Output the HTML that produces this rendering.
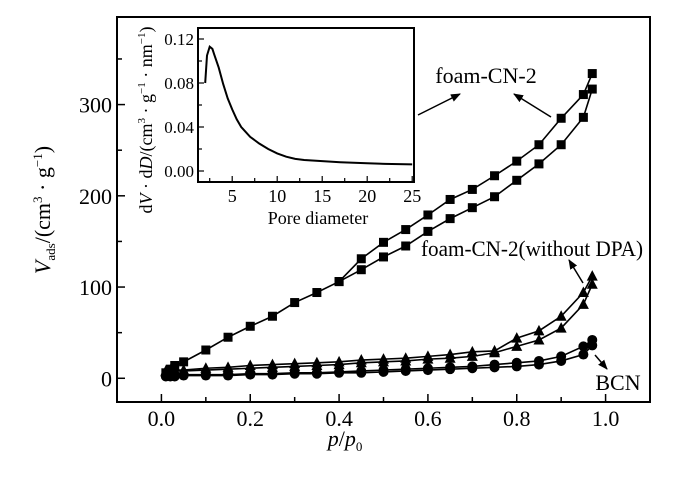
<!DOCTYPE html>
<html><head><meta charset="utf-8"><style>
html,body{margin:0;padding:0;background:#fff;}
svg{display:block;font-family:"Liberation Serif","Times New Roman",serif;}
</style></head><body>
<svg id="chart" width="700" height="481" viewBox="0 0 700 481" xmlns="http://www.w3.org/2000/svg">
<defs>
<marker id="ah" markerWidth="10" markerHeight="8" refX="9" refY="4" orient="auto" markerUnits="userSpaceOnUse"><path d="M0,0 L10,4 L0,8 Z" fill="#000"/></marker>
</defs>
<g id="main"></g>
<g id="inset"></g>
<text x="486" y="83" font-size="22" text-anchor="middle">foam-CN-2</text>
<line x1="418" y1="115" x2="460" y2="94" stroke="#000" stroke-width="1.5" marker-end="url(#ah)"/>
<line x1="551" y1="117" x2="514" y2="94" stroke="#000" stroke-width="1.5" marker-end="url(#ah)"/>
<text x="532" y="256" font-size="22" text-anchor="middle" textLength="222" lengthAdjust="spacingAndGlyphs">foam-CN-2(without DPA)</text>
<line x1="583" y1="283" x2="569" y2="260" stroke="#000" stroke-width="1.5" marker-end="url(#ah)"/>
<text x="618" y="390" font-size="22" text-anchor="middle">BCN</text>
<line x1="595" y1="355" x2="607" y2="369" stroke="#000" stroke-width="1.5" marker-end="url(#ah)"/>
<text transform="translate(50,210) rotate(-90)" font-size="22" text-anchor="middle"><tspan font-style="italic">V</tspan><tspan font-size="13" dy="5">ads</tspan><tspan dy="-5">/(cm</tspan><tspan font-size="13" dy="-8">3</tspan><tspan dy="8"> · g</tspan><tspan font-size="13" dy="-8">−1</tspan><tspan dy="8">)</tspan></text>
<text x="345" y="446" font-size="22" text-anchor="middle"><tspan font-style="italic">p</tspan>/<tspan font-style="italic">p</tspan><tspan font-size="13" dy="5">0</tspan></text>
</svg>
<script>
// main chart data
const pAds = [0.01,0.02,0.03,0.05,0.1,0.15,0.2,0.25,0.3,0.35,0.4,0.45,0.5,0.55,0.6,0.65,0.7,0.75,0.8,0.85,0.9,0.95,0.97];
const foamAds = [6,10,14,18,31,45,57,68,83,94,106,119,133,145,161,175,187,199,217,235,256,286,317];
const pFoamDes = [0.4,0.45,0.5,0.55,0.6,0.65,0.7,0.75,0.8,0.85,0.9,0.95,0.97];
const foamDes = [106,131,149,163,179,196,207,222,238,256,285,311,334];
const pDes = [0.01,0.02,0.03,0.05,0.1,0.15,0.2,0.25,0.3,0.35,0.4,0.45,0.5,0.55,0.6,0.65,0.7,0.75,0.8,0.85,0.9,0.95,0.97];
const triAds = [7,7,8,8,9,10,11,12,13,14,15,17,18,19,21,22,24,28,35,42,55,81,103];
const triDes = [8,9,9,9,11,12,14,15,16,17,18,20,21,22,24,26,29,30,44,52,68,94,112];
const bcnAds = [2,2,2,3,3,3,4,4,5,5,6,6,7,8,9,10,11,12,13,15,19,26,36];
const bcnDes = [3,3,3,4,4,4,5,5,6,6,7,8,9,10,11,12,13,15,17,19,24,35,42];
const xTicks = [0.0,0.2,0.4,0.6,0.8,1.0];
const xTickLabels = ["0.0","0.2","0.4","0.6","0.8","1.0"];
const yTicks = [0,100,200,300];
const yTickLabels = ["0","100","200","300"];
// inset data
const poreD = [2.0,2.2,2.5,2.8,3.0,3.5,4,4.5,5,5.5,6,7,8,9,10,11,12,13,15,17,20,22,25];
const dvdd = [0.080,0.105,0.113,0.111,0.106,0.094,0.079,0.066,0.056,0.047,0.040,0.031,0.025,0.020,0.016,0.013,0.011,0.010,0.009,0.008,0.007,0.0065,0.006];
const insetXTicks = [5,10,15,20,25];
const insetXTickLabels = ["5","10","15","20","25"];
const insetYTicks = [0,0.04,0.08,0.12];
const insetYTickLabels = ["0.00","0.04","0.08","0.12"];

const NS="http://www.w3.org/2000/svg";
function mk(parent,tag,attrs){const e=document.createElementNS(NS,tag);for(const k in attrs)e.setAttribute(k,attrs[k]);parent.appendChild(e);return e;}
const L=117,R=650,T=17,B=402;
const X=v=>L+(v+0.1)/1.2*(R-L);
const Y=v=>B-(v+26)/422*(B-T);
const main=document.getElementById('main');
let f=mk(main,'rect',{x:L,y:T,width:R-L,height:B-T,fill:'none',stroke:'#000','stroke-width':2});


for(let v=0;v<=1.0001;v+=0.1){const x=X(v);const major=Math.round(v*10)%2===0;const t=mk(main,'line',{x1:x,x2:x,y1:B,y2:B-(major?8:5),stroke:'#000','stroke-width':1.5});

}
xTicks.forEach((v,i)=>{const t=mk(main,'text',{x:X(v),y:B+24,'font-size':22,'text-anchor':'middle'});t.textContent=xTickLabels[i];

});
for(let v=0;v<=350;v+=50){const y=Y(v);const t=mk(main,'line',{x1:L,x2:L+(v%100===0?8:5),y1:y,y2:y,stroke:'#000','stroke-width':1.5});

}
yTicks.forEach((v,i)=>{const t=mk(main,'text',{x:L-5,y:Y(v)+8,'font-size':22,'text-anchor':'end'});t.textContent=yTickLabels[i];

});
function series(xs,ys,marker,name){const g=mk(main,'g',{});


mk(g,'polyline',{points:xs.map((x,i)=>X(x)+','+Y(ys[i])).join(' '),fill:'none',stroke:'#000','stroke-width':1.6});
xs.forEach((x,i)=>{const cx=X(x),cy=Y(ys[i]);let m;
if(marker==='sq')m=mk(g,'rect',{x:cx-4.5,y:cy-4.5,width:9,height:9,fill:'#000'});
else if(marker==='tri')m=mk(g,'polygon',{points:`${cx},${cy-6} ${cx-5.5},${cy+4.5} ${cx+5.5},${cy+4.5}`,fill:'#000'});
else m=mk(g,'circle',{cx:cx,cy:cy,r:5,fill:'#000'});

});}
series(pDes,bcnAds,'ci','bcn-adsorption');
series(pDes,bcnDes,'ci','bcn-desorption');
series(pDes,triAds,'tri','without-dpa-adsorption');
series(pDes,triDes,'tri','without-dpa-desorption');
series(pAds,foamAds,'sq','foam-cn-2-adsorption');
series(pFoamDes,foamDes,'sq','foam-cn-2-desorption');

// inset
const iL=198,iR=414,iT=28,iB=182;
const IX=v=>iL+(v-1.2)/24*(iR-iL);
const IY=v=>iB-(v+0.01)/0.14*(iB-iT);
const ins=document.getElementById('inset');
let r=mk(ins,'rect',{x:iL,y:iT,width:iR-iL,height:iB-iT,fill:'#fff',stroke:'#000','stroke-width':2});


for(let v=2.5;v<=25;v+=2.5){const x=IX(v);const t=mk(ins,'line',{x1:x,x2:x,y1:iB,y2:iB-(v%5===0?6:4),stroke:'#000','stroke-width':1.2});

}
insetXTicks.forEach((v,i)=>{const t=mk(ins,'text',{x:IX(v),y:iB+20,'font-size':18,'text-anchor':'middle'});t.textContent=insetXTickLabels[i];

});
for(let k=0;k<=6;k++){const v=k*0.02;const y=IY(v);const t=mk(ins,'line',{x1:iL,x2:iL+(k%2===0?6:4),y1:y,y2:y,stroke:'#000','stroke-width':1.2});

}
insetYTicks.forEach((v,i)=>{const t=mk(ins,'text',{x:iL-4,y:IY(v)+6,'font-size':17,'text-anchor':'end'});t.textContent=insetYTickLabels[i];

});
let c=mk(ins,'polyline',{points:poreD.map((d,i)=>IX(d)+','+IY(dvdd[i])).join(' '),fill:'none',stroke:'#000','stroke-width':2});


let xt=mk(ins,'text',{x:318,y:224,'font-size':18,'text-anchor':'middle'});xt.textContent='Pore diameter';


let yt=mk(ins,'text',{transform:'translate(152,120) rotate(-90)','font-size':18,'text-anchor':'middle'});
yt.innerHTML='d<tspan font-style="italic">V</tspan> · d<tspan font-style="italic">D</tspan>/(cm<tspan font-size="11" dy="-7">3</tspan><tspan dy="7"> · g</tspan><tspan font-size="11" dy="-7">−1</tspan><tspan dy="7"> · nm</tspan><tspan font-size="11" dy="-7">−1</tspan><tspan dy="7">)</tspan>';


</script>
</body></html>
